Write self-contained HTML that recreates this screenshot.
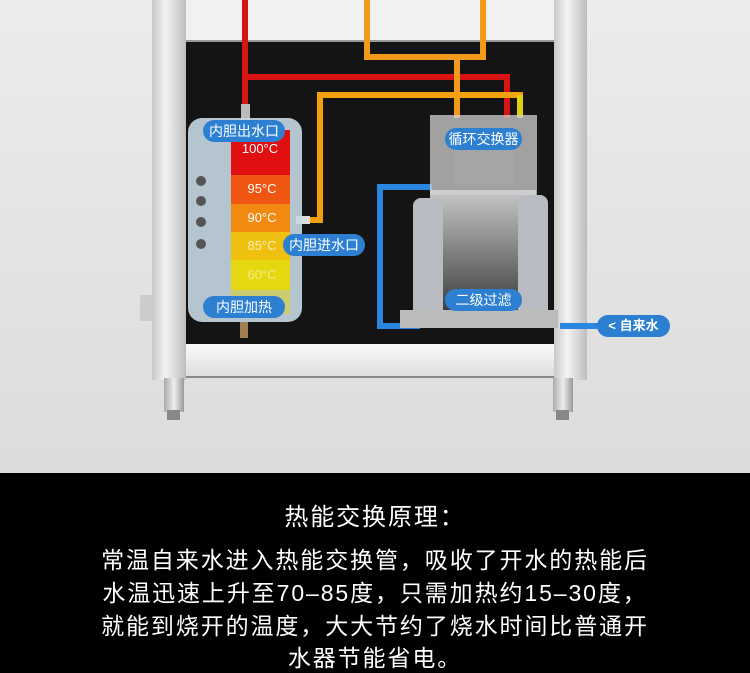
<!DOCTYPE html>
<html><head><meta charset="utf-8"><style>
*{margin:0;padding:0;box-sizing:border-box}
body{width:750px;height:673px;overflow:hidden;background:#e4e4e4;font-family:"Liberation Sans","Noto Sans CJK SC",sans-serif;position:relative}
.a{position:absolute}
.pill{position:absolute;background:#2d7fd2;color:#fff;border-radius:11px;font-size:14px;text-align:center;line-height:22px;height:22px}
.bot{position:absolute;left:0;top:473px;width:750px;height:200px;background:#000;color:#fff;text-align:center}
.bot p{position:absolute;left:0;width:750px;font-size:23px;letter-spacing:1.9px;line-height:30px}
</style></head><body>
<div class="a" style="left:0;top:0;width:750px;height:473px;background:linear-gradient(#ececec,#dcdcdc)"></div>
<div class="a" style="left:152px;top:0;width:34px;height:380px;background:linear-gradient(90deg,#c8c8c8,#f4f4f4 40%,#bdbdbd)"></div>
<div class="a" style="left:554px;top:0;width:33px;height:380px;background:linear-gradient(90deg,#c8c8c8,#f4f4f4 40%,#bdbdbd)"></div>
<div class="a" style="left:186px;top:0;width:368px;height:42px;background:#f1f1f1;border-bottom:2px solid #999"></div>
<div class="a" style="left:186px;top:42px;width:368px;height:302px;background:#141414"></div>
<div class="a" style="left:186px;top:344px;width:368px;height:34px;background:linear-gradient(#fafafa,#dedede);border-bottom:2px solid #888"></div>
<div class="a" style="left:140px;top:295px;width:12px;height:26px;background:#ccc"></div>
<div class="a" style="left:164px;top:378px;width:20px;height:34px;background:linear-gradient(90deg,#aaa,#eee,#999)"></div>
<div class="a" style="left:167px;top:410px;width:13px;height:10px;background:#888"></div>
<div class="a" style="left:553px;top:378px;width:20px;height:34px;background:linear-gradient(90deg,#aaa,#eee,#999)"></div>
<div class="a" style="left:556px;top:410px;width:13px;height:10px;background:#888"></div>
<svg class="a" style="left:0;top:0" width="750" height="473">
<defs><linearGradient id="g" x1="0" y1="0" x2="0" y2="1"><stop offset="0" stop-color="#c8c8c8"/><stop offset="1" stop-color="#333"/></linearGradient></defs>
<g fill="none" stroke-width="6">
<path d="M245 0V110M245 77H507V118" stroke="#d81313"/>
<path d="M367 0V57H483V0M457 57V118" stroke="#f29a1c"/>
<path d="M307 220H320V95H520V118" stroke="#f3a00e"/>
<path d="M520 95V118" stroke="#e0d010"/>
<path d="M432 187H380V326H420" stroke="#2b86e0"/>
<path d="M560 326H600" stroke="#2b86e0"/>
</g>
<rect x="241" y="104" width="9" height="18" fill="#bbb"/>
<rect x="296" y="216" width="14" height="8" fill="#ddd"/>
<rect x="188" y="118" width="114" height="204" rx="14" fill="#c7d8e3" opacity=".9"/>
<rect x="231" y="130" width="59" height="45" fill="#e01010"/>
<rect x="231" y="175" width="59" height="29" fill="#ee5612"/>
<rect x="231" y="204" width="59" height="28" fill="#f08a10"/>
<rect x="231" y="232" width="59" height="28" fill="#eec010"/>
<rect x="231" y="260" width="59" height="30" fill="#e6d810"/>
<rect x="231" y="290" width="59" height="24" fill="#dcd030" opacity=".6"/>
<g fill="#fff" font-size="13" text-anchor="middle" font-family="Liberation Sans,sans-serif">
<text x="260" y="153">100°C</text><text x="262" y="193">95°C</text><text x="262" y="222">90°C</text><text x="262" y="250" opacity=".7">85°C</text><text x="262" y="279" opacity=".5">60°C</text></g>
<g fill="#555"><circle cx="201" cy="181" r="5"/><circle cx="201" cy="201" r="5"/><circle cx="201" cy="222" r="5"/><circle cx="201" cy="244" r="5"/></g>
<rect x="240" y="322" width="8" height="16" fill="#a08050"/>
<rect x="430" y="190" width="106" height="130" fill="url(#g)"/>
<rect x="413" y="198" width="30" height="120" rx="8" fill="#b8bcc2"/>
<rect x="518" y="195" width="30" height="123" rx="8" fill="#b8bcc2"/>
<rect x="430" y="115" width="107" height="80" fill="#d0d0d0" opacity=".75"/>
<rect x="455" y="145" width="60" height="40" fill="#aaa" opacity=".5"/>
<rect x="400" y="310" width="158" height="18" fill="#bbb"/>
<circle cx="600" cy="326" r="4" fill="#2d7fd2"/>
</svg>
<div class="pill" style="left:203px;top:120px;width:82px">内胆出水口</div>
<div class="pill" style="left:283px;top:234px;width:82px">内胆进水口</div>
<div class="pill" style="left:203px;top:296px;width:82px">内胆加热</div>
<div class="pill" style="left:445px;top:128px;width:77px">循环交换器</div>
<div class="pill" style="left:445px;top:289px;width:77px">二级过滤</div>
<div class="pill" style="left:597px;top:315px;width:73px;font-weight:bold;font-size:13px">&lt; 自来水</div>
<div class="bot">
<p style="top:30px;font-size:24px">热能交换原理：</p>
<p style="top:72px">常温自来水进入热能交换管，吸收了开水的热能后</p>
<p style="top:105px">水温迅速上升至70–85度，只需加热约15–30度，</p>
<p style="top:138px">就能到烧开的温度，大大节约了烧水时间比普通开</p>
<p style="top:170px">水器节能省电。</p>
</div>
</body></html>
